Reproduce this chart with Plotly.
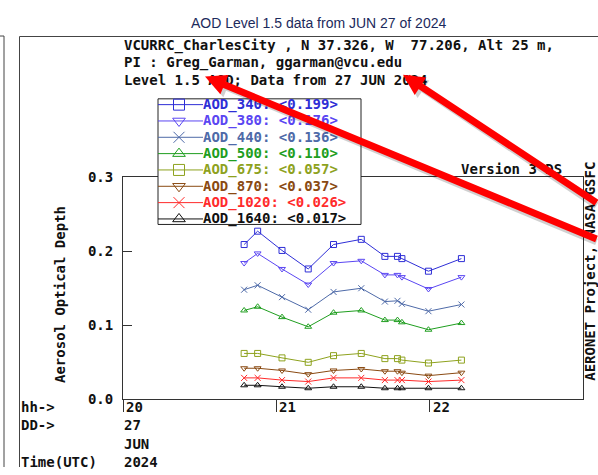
import plotly.graph_objects as go

# ---------------- data ----------------
hours = [20.79, 20.878, 21.037, 21.208, 21.373, 21.554, 21.708, 21.79, 21.819, 21.992, 22.207]

aod_340 = [0.209, 0.227, 0.201, 0.176, 0.209, 0.216, 0.193, 0.193, 0.190, 0.173, 0.190]
aod_380 = [0.184, 0.197, 0.176, 0.155, 0.184, 0.187, 0.168, 0.168, 0.165, 0.149, 0.165]
aod_440 = [0.148, 0.154, 0.138, 0.121, 0.145, 0.150, 0.132, 0.133, 0.129, 0.119, 0.128]
aod_500 = [0.120, 0.125, 0.111, 0.098, 0.117, 0.120, 0.107, 0.107, 0.104, 0.094, 0.103]
aod_675 = [0.062, 0.062, 0.056, 0.050, 0.059, 0.062, 0.055, 0.055, 0.053, 0.049, 0.053]
aod_870 = [0.042, 0.042, 0.039, 0.034, 0.039, 0.041, 0.038, 0.038, 0.036, 0.032, 0.036]
aod_1020 = [0.029, 0.029, 0.026, 0.024, 0.029, 0.029, 0.026, 0.026, 0.026, 0.024, 0.026]
aod_1640 = [0.019, 0.019, 0.017, 0.015, 0.017, 0.017, 0.015, 0.015, 0.015, 0.015, 0.015]

series_names = ["AOD_340", "AOD_380", "AOD_440", "AOD_500", "AOD_675", "AOD_870", "AOD_1020", "AOD_1640"]
series_means = ["0.199", "0.176", "0.136", "0.110", "0.057", "0.037", "0.026", "0.017"]
series_values = [aod_340, aod_380, aod_440, aod_500, aod_675, aod_870, aod_1020, aod_1640]

x_tick_vals = [20, 21, 22]
x_tick_text = ["20", "21", "22"]
y_tick_vals = [0.0, 0.1, 0.2, 0.3]
y_tick_text = ["0.0", "0.1", "0.2", "0.3"]

# ---------------- styles ----------------
colors = ["#2e2ed6", "#5a46f2", "#4e6aa8", "#1f9e1f", "#8ea21e", "#8a4a12", "#ff2b2b", "#111111"]
symbols = ["square-open", "triangle-down-open", "x-thin-open", "triangle-up-open",
           "square-open", "triangle-down-open", "x-thin-open", "triangle-up-open"]

W, H = 598, 475
MONO = dict(family="DejaVu Sans Mono", size=14, color="#111111", weight="bold")
AXC = "#333333"

fig = go.Figure()

# data traces
for name, vals, col, sym in zip(series_names, series_values, colors, symbols):
    fig.add_trace(go.Scatter(
        x=hours, y=vals, mode="lines+markers", name=name,
        line=dict(color=col, width=1),
        marker=dict(symbol=sym, size=6, color=col, line=dict(color=col, width=1)),
        xaxis="x", yaxis="y", showlegend=False, hoverinfo="skip",
    ))

# hand-made legend (pixel overlay axes)
LEG_X0, LEG_X1, LEG_Y0, LEG_Y1 = 158, 361, 94, 224
LEG_ROW0, LEG_DY = 100, 16.9
LEG_SYM_X, LEG_LINE_X1, LEG_TXT_X = 179, 203, 202
for i, (name, mean, col, sym) in enumerate(zip(series_names, series_means, colors, symbols)):
    ry = LEG_ROW0 + LEG_DY * i
    fig.add_trace(go.Scatter(
        x=[LEG_X0, LEG_LINE_X1], y=[ry, ry], mode="lines",
        line=dict(color=col, width=1), xaxis="x2", yaxis="y2",
        showlegend=False, hoverinfo="skip"))
    fig.add_trace(go.Scatter(
        x=[LEG_SYM_X], y=[ry], mode="markers",
        marker=dict(symbol=sym, size=11, color=col, line=dict(color=col, width=1)),
        xaxis="x2", yaxis="y2", showlegend=False, hoverinfo="skip"))

annotations = []


def txt(x, y, text, xanchor="left", font=None, angle=0, ref=("x2", "y2")):
    annotations.append(dict(
        x=x, y=y, xref=ref[0], yref=ref[1], text=text, showarrow=False,
        xanchor=xanchor, yanchor="middle", font=font or MONO, textangle=angle,
        borderpad=0, align="left"))


for i, (name, mean, col) in enumerate(zip(series_names, series_means, colors)):
    ry = LEG_ROW0 + LEG_DY * i
    txt(LEG_TXT_X, ry, f"{name}: &lt;{mean}&gt;", font=dict(MONO, color=col))

# title
txt(318, 16, "AOD Level 1.5 data from JUN 27 of 2024", xanchor="center",
    font=dict(family="Liberation Sans", size=14, color="#1c2a5c"))
# header
txt(123, 39, "VCURRC_CharlesCity , N 37.326, W\u00a0\u00a077.206, Alt 25 m,")
txt(123, 56.5, "PI : Greg_Garman, ggarman@vcu.edu")
txt(123, 74, "Level 1.5 AOD; Data from 27 JUN 2024")
txt(563, 167, "Version 3 DS", xanchor="right")
# axis titles
txt(60, 297, "Aerosol Optical Depth", xanchor="center", angle=-90)
txt(590, 273, "AERONET Project, NASA GSFC", xanchor="center", angle=-90)
# bottom time labels
txt(20, 413, "hh->")
txt(20, 432, "DD->")
txt(20, 470, "Time(UTC)")
txt(123, 432, "27")
txt(123, 451, "JUN")
txt(123, 470, "2024")
for v, t in zip(x_tick_vals, x_tick_text):
    annotations.append(dict(x=v, y=413, xref="x", yref="y2", text=t, showarrow=False,
                            xanchor="left", yanchor="middle", font=MONO, xshift=1))

# red arrows (with a faint shadow)
arrows = [((403, 69), (600, 198)), ((205, 71), (600, 234))]
for (tip, tail), (dx, dy, col) in [(a, s) for s in [(3, 3, "rgba(0,0,0,0.18)"), (0, 0, "#ff0000")] for a in arrows]:
    annotations.append(dict(
        x=tip[0] + dx, y=tip[1] + dy, xref="x2", yref="y2", text="", showarrow=True,
        ax=tail[0] - tip[0], ay=tail[1] - tip[1], axref="pixel", ayref="pixel",
        arrowcolor=col, arrowwidth=7, arrowhead=2, arrowsize=0.6, standoff=0))

shapes = [
    # legend box
    dict(type="rect", xref="x2", yref="y2", x0=LEG_X0, x1=LEG_X1, y0=LEG_Y0, y1=LEG_Y1,
         fillcolor="white", line=dict(color="#222222", width=1), layer="below"),
    # page frames
    dict(type="line", xref="x2", yref="y2", x0=4, x1=4, y0=29, y1=H, line=dict(color="#444", width=1)),
    dict(type="line", xref="x2", yref="y2", x0=0, x1=4, y0=29, y1=29, line=dict(color="#444", width=1)),
    dict(type="line", xref="x2", yref="y2", x0=19.5, x1=19.5, y0=29.5, y1=H, line=dict(color="#444", width=1)),
    dict(type="line", xref="x2", yref="y2", x0=19.5, x1=W, y0=29.5, y1=29.5, line=dict(color="#444", width=1)),
]

fig.update_layout(
    width=W, height=H, margin=dict(l=0, r=0, t=0, b=0),
    paper_bgcolor="white", plot_bgcolor="rgba(0,0,0,0)",
    showlegend=False,
    xaxis=dict(domain=[123 / W, 583 / W], range=[20, 23], anchor="y",
               showline=True, mirror=True, linecolor=AXC, linewidth=1,
               ticks="outside", ticklen=12, tickcolor=AXC, tickvals=x_tick_vals,
               showticklabels=False, showgrid=False, zeroline=False, fixedrange=True),
    yaxis=dict(domain=[70 / H, 300 / H], range=[0, 0.3], anchor="x",
               showline=True, mirror=True, linecolor=AXC, linewidth=1,
               ticks="inside", ticklen=9, tickcolor=AXC,
               tickvals=y_tick_vals, ticktext=y_tick_text, tickfont=MONO,
               ticklabelstandoff=6,
               showgrid=False, zeroline=False, fixedrange=True),
    xaxis2=dict(domain=[0, 1], range=[0, W], anchor="y2", visible=False, fixedrange=True),
    yaxis2=dict(domain=[0, 1], range=[H, 0], anchor="x2", visible=False, fixedrange=True),
    annotations=annotations, shapes=shapes,
)

fig.write_html("out.html")
